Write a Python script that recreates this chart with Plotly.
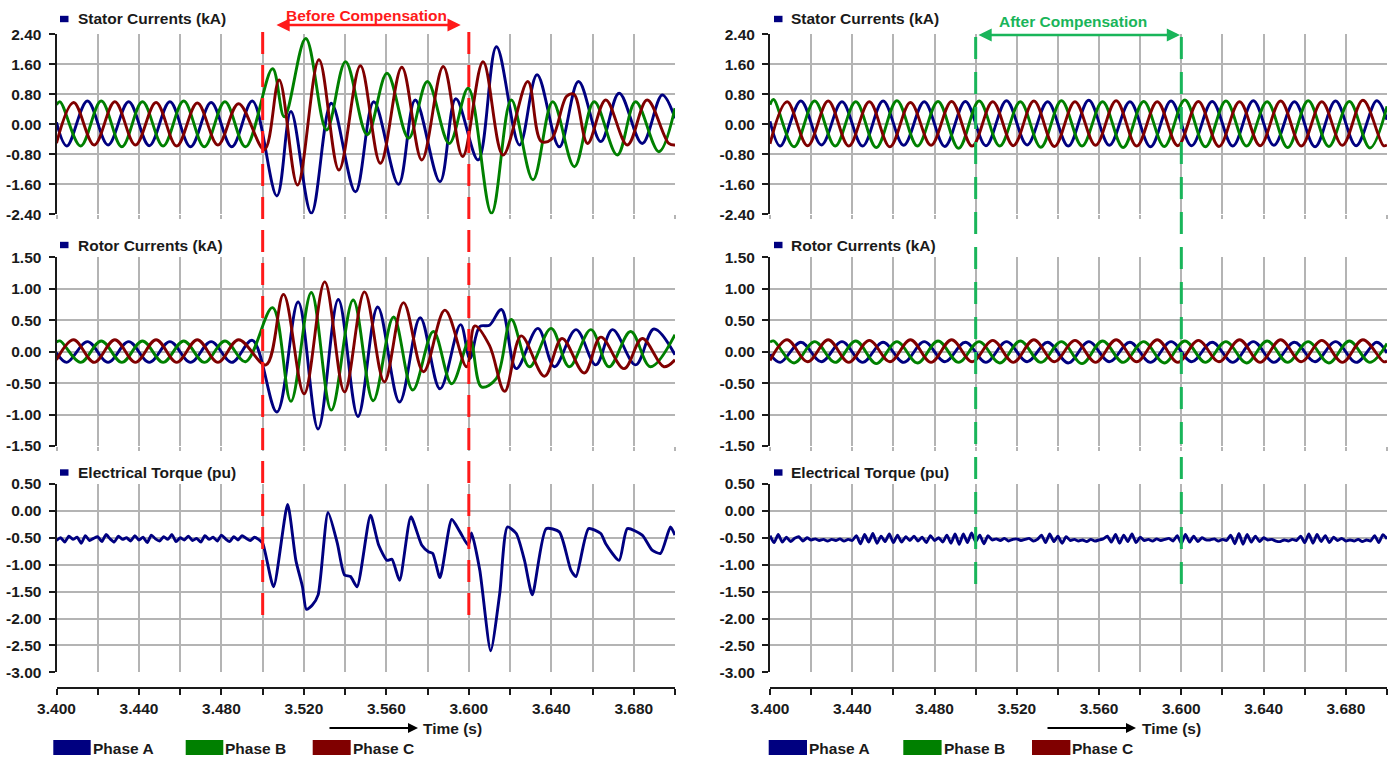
import numpy as np
import plotly.graph_objects as go

W, H = 1400, 758
FONT = "Liberation Sans, Arial, Helvetica, sans-serif"
GRID = "#b4b4b4"
AXIS = "#1a1a1a"

PHASE_NAMES = ["Phase A", "Phase B", "Phase C"]
PHASE_COLORS = ["#000080", "#008000", "#800000"]
PANEL_TITLES = ["Stator Currents (kA)", "Rotor Currents (kA)", "Electrical Torque (pu)"]

TIME_RANGE = [3.4, 3.7]
TIME_TICKS = [3.40, 3.42, 3.44, 3.46, 3.48, 3.50, 3.52, 3.54,
              3.56, 3.58, 3.60, 3.62, 3.64, 3.66, 3.68, 3.70]
TIME_TICK_TEXT = ["3.400", "", "3.440", "", "3.480", "", "3.520", "", "3.560", "",
                  "3.600", "", "3.640", "", "3.680", ""]

STATOR_TICKS = [-2.4, -1.6, -0.8, 0.0, 0.8, 1.6, 2.4]
STATOR_TICK_TEXT = ["-2.40", "-1.60", "-0.80", "0.00", "0.80", "1.60", "2.40"]
ROTOR_TICKS = [-1.5, -1.0, -0.5, 0.0, 0.5, 1.0, 1.5]
ROTOR_TICK_TEXT = ["-1.50", "-1.00", "-0.50", "0.00", "0.50", "1.00", "1.50"]
TORQUE_TICKS = [-3.0, -2.5, -2.0, -1.5, -1.0, -0.5, 0.0, 0.5]
TORQUE_TICK_TEXT = ["-3.00", "-2.50", "-2.00", "-1.50", "-1.00", "-0.50", "0.00", "0.50"]

COMPENSATION_WINDOW = [3.5, 3.6]

# ---------------- before compensation: stator currents (kA), extrema ----------------
ST_L_A_T = [3.400, 3.405, 3.415, 3.425, 3.435, 3.445, 3.455, 3.465, 3.475, 3.485, 3.495,
            3.5069, 3.5137, 3.5236, 3.5333, 3.5450, 3.5539, 3.5659, 3.5740, 3.5860, 3.5937,
            3.6045, 3.6134, 3.6246, 3.6331, 3.6439, 3.6532, 3.6640, 3.6729, 3.6841, 3.6938, 3.700]
ST_L_A_V = [0.05, -0.58, 0.62, -0.55, 0.60, -0.57, 0.60, -0.60, 0.58, -0.60, 0.62,
            -1.91, 0.34, -2.37, 0.56, -1.80, 0.60, -1.60, 0.65, -1.53, 0.68,
            -0.95, 2.07, -0.55, 1.32, -0.60, 1.14, -0.46, 0.83, -0.51, 0.78, 0.16]

ST_L_B_T = [3.400, 3.4017, 3.4117, 3.4217, 3.4317, 3.4417, 3.4517, 3.4617, 3.4717, 3.4817, 3.4917,
            3.5048, 3.5105, 3.5209, 3.5310, 3.5402, 3.5507, 3.5603, 3.5708, 3.5799, 3.5905, 3.5997,
            3.6110, 3.6206, 3.6311, 3.6407, 3.6512, 3.6608, 3.6720, 3.6809, 3.6922, 3.700]
ST_L_B_V = [0.52, 0.60, -0.58, 0.62, -0.60, 0.60, -0.58, 0.62, -0.60, 0.60, -0.60,
            1.48, 0.20, 2.29, -0.15, 1.67, -0.28, 1.36, -0.37, 1.14, -0.51, 0.96,
            -2.37, 0.65, -1.48, 0.60, -1.13, 0.60, -0.82, 0.60, -0.73, 0.43]

ST_L_C_T = [3.400, 3.4083, 3.4183, 3.4283, 3.4383, 3.4483, 3.4583, 3.4683, 3.4783, 3.4883,
            3.5008, 3.5080, 3.5169, 3.5273, 3.5370, 3.5474, 3.5571, 3.5675, 3.5772, 3.5876, 3.5970,
            3.6069, 3.6166, 3.6286, 3.6350, 3.6400, 3.6475, 3.6510, 3.6576, 3.6664, 3.6769,
            3.6865, 3.6970, 3.700]
ST_L_C_V = [-0.50, 0.58, -0.55, 0.60, -0.55, 0.58, -0.58, 0.57, -0.55, 0.55,
            -0.68, 1.18, -1.62, 1.72, -1.22, 1.56, -1.04, 1.52, -0.95, 1.54, -0.86,
            1.67, -0.82, 1.14, -0.45, -0.40, 0.75, 0.80, -0.51, 0.65, -0.55,
            0.65, -0.51, -0.55]

# ---------------- before compensation: rotor currents (kA), extrema ----------------
RO_L_A_T = [3.400, 3.405, 3.415, 3.425, 3.435, 3.445, 3.455, 3.465, 3.475, 3.485, 3.495,
            3.5069, 3.5172, 3.5269, 3.5367, 3.5462, 3.5558, 3.5664, 3.5764, 3.5860, 3.5960,
            3.6005, 3.6053, 3.6100, 3.6158, 3.6230, 3.6335, 3.6415, 3.6520, 3.6616, 3.6697,
            3.6809, 3.6898, 3.700]
RO_L_A_V = [-0.02, -0.17, 0.16, -0.17, 0.16, -0.17, 0.16, -0.17, 0.16, -0.17, 0.18,
            -0.96, 0.79, -1.23, 0.83, -1.03, 0.71, -0.80, 0.54, -0.59, 0.43,
            -0.11, 0.40, 0.42, 0.67, -0.27, 0.37, -0.24, 0.35, -0.21, 0.35,
            -0.21, 0.36, -0.05]

RO_L_B_T = [3.400, 3.4017, 3.4117, 3.4217, 3.4317, 3.4417, 3.4517, 3.4617, 3.4717, 3.4817, 3.4917,
            3.5048, 3.5137, 3.5236, 3.5333, 3.5439, 3.5536, 3.5635, 3.5728, 3.5828, 3.5917, 3.6005,
            3.6061, 3.6133, 3.6206, 3.6294, 3.6399, 3.6487, 3.6592, 3.6680, 3.6785, 3.6881, 3.700]
RO_L_B_V = [0.15, 0.17, -0.17, 0.17, -0.17, 0.17, -0.17, 0.17, -0.17, 0.17, -0.16,
            0.70, -0.79, 0.94, -0.93, 0.82, -0.78, 0.55, -0.61, 0.32, -0.51, 0.19,
            -0.56, -0.43, 0.51, -0.24, 0.37, -0.24, 0.35, -0.24, 0.32, -0.24, 0.27]

RO_L_C_T = [3.400, 3.4083, 3.4183, 3.4283, 3.4383, 3.4483, 3.4583, 3.4683, 3.4783, 3.4883,
            3.5016, 3.5101, 3.5201, 3.5301, 3.5397, 3.5494, 3.5590, 3.5683, 3.5780, 3.5884, 3.5989,
            3.6029, 3.6100, 3.6174, 3.6254, 3.6367, 3.6452, 3.6560, 3.6640, 3.6753, 3.6841,
            3.6946, 3.700]
RO_L_C_V = [-0.13, 0.19, -0.17, 0.19, -0.17, 0.19, -0.17, 0.19, -0.17, 0.19,
            -0.21, 0.91, -0.67, 1.11, -0.64, 0.95, -0.48, 0.78, -0.32, 0.66, -0.24,
            0.41, 0.10, -0.63, 0.25, -0.39, 0.21, -0.34, 0.23, -0.27, 0.21,
            -0.24, -0.13]

# ---------------- before compensation: electrical torque (pu) ----------------
# steady part sampled every 2 ms from 3.400 s to 3.498 s
TQ_L_STEADY_V = [-0.55, -0.50, -0.58, -0.47, -0.53, -0.49, -0.60, -0.46, -0.55, -0.51,
                 -0.48, -0.57, -0.44, -0.52, -0.58, -0.47, -0.53, -0.50, -0.56, -0.46,
                 -0.54, -0.49, -0.59, -0.45, -0.52, -0.56, -0.48, -0.53, -0.44, -0.57,
                 -0.50, -0.54, -0.47, -0.55, -0.51, -0.58, -0.46, -0.53, -0.49, -0.56,
                 -0.45, -0.52, -0.57, -0.48, -0.54, -0.46, -0.51, -0.55, -0.49, -0.53]
TQ_L_OSC_T = [3.5000, 3.5053, 3.5121, 3.5161, 3.5193, 3.5212, 3.5241, 3.5269, 3.5317, 3.5362,
              3.5397, 3.5426, 3.5458, 3.5523, 3.5563, 3.5603, 3.5627, 3.5664, 3.5719, 3.5772,
              3.5804, 3.5825, 3.5860, 3.5917, 3.5957, 3.5997, 3.6013, 3.6053, 3.6106, 3.6150,
              3.6187, 3.6230, 3.6270, 3.6308, 3.6375, 3.6439, 3.6495, 3.6520, 3.6581, 3.6640,
              3.6664, 3.6729, 3.6769, 3.6841, 3.6889, 3.6930, 3.6978, 3.7000]
TQ_L_OSC_V = [-0.60, -1.41, 0.12, -0.92, -1.41, -1.83, -1.75, -1.56, -0.03, -0.60,
              -1.19, -1.22, -1.41, -0.08, -0.64, -0.92, -0.90, -1.29, -0.11, -0.64,
              -0.76, -0.79, -1.24, -0.16, -0.39, -0.64, -0.41, -1.10, -2.60, -1.53,
              -0.30, -0.42, -0.92, -1.56, -0.33, -0.39, -1.10, -1.22, -0.33, -0.42,
              -0.61, -0.92, -0.33, -0.45, -0.73, -0.79, -0.30, -0.45]

# ---------------- after compensation: stator currents (kA), extrema ----------------
ST_R_A_T = [3.400, 3.405, 3.415, 3.425, 3.435, 3.445, 3.455, 3.465, 3.475, 3.485, 3.495,
            3.505, 3.515, 3.525, 3.535, 3.545, 3.555, 3.565, 3.575, 3.585, 3.595,
            3.605, 3.615, 3.625, 3.635, 3.645, 3.655, 3.665, 3.675, 3.685, 3.695, 3.700]
ST_R_A_V = [0.08, -0.58, 0.62, -0.55, 0.60, -0.58, 0.62, -0.56, 0.60, -0.59, 0.61,
            -0.57, 0.63, -0.55, 0.60, -0.58, 0.64, -0.56, 0.60, -0.60, 0.62,
            -0.57, 0.61, -0.58, 0.63, -0.56, 0.60, -0.60, 0.62, -0.57, 0.63, 0.12]

ST_R_B_T = [3.400, 3.4017, 3.4117, 3.4217, 3.4317, 3.4417, 3.4517, 3.4617, 3.4717, 3.4817, 3.4917,
            3.5017, 3.5117, 3.5217, 3.5317, 3.5417, 3.5517, 3.5617, 3.5717, 3.5817, 3.5917,
            3.6017, 3.6117, 3.6217, 3.6317, 3.6417, 3.6517, 3.6617, 3.6717, 3.6817, 3.6917, 3.700]
ST_R_B_V = [0.52, 0.66, -0.60, 0.62, -0.58, 0.60, -0.62, 0.63, -0.58, 0.61, -0.64,
            0.62, -0.58, 0.60, -0.61, 0.63, -0.58, 0.60, -0.62, 0.61, -0.59,
            0.65, -0.60, 0.62, -0.58, 0.60, -0.62, 0.63, -0.59, 0.61, -0.63, 0.48]

ST_R_C_T = [3.400, 3.4083, 3.4183, 3.4283, 3.4383, 3.4483, 3.4583, 3.4683, 3.4783, 3.4883, 3.4983,
            3.5083, 3.5183, 3.5283, 3.5383, 3.5483, 3.5583, 3.5683, 3.5783, 3.5883, 3.5983,
            3.6083, 3.6183, 3.6283, 3.6383, 3.6483, 3.6583, 3.6683, 3.6783, 3.6883, 3.6983, 3.700]
ST_R_C_V = [-0.52, 0.60, -0.57, 0.62, -0.58, 0.60, -0.60, 0.58, -0.56, 0.61, -0.58,
            0.60, -0.57, 0.62, -0.59, 0.60, -0.56, 0.63, -0.58, 0.60, -0.57,
            0.61, -0.59, 0.60, -0.57, 0.62, -0.58, 0.60, -0.56, 0.64, -0.57, -0.55]

# ---------------- after compensation: rotor currents (kA), extrema ----------------
RO_R_A_T = ST_R_A_T
RO_R_A_V = [-0.04, -0.17, 0.15, -0.16, 0.16, -0.17, 0.15, -0.17, 0.16, -0.16, 0.15,
            -0.17, 0.16, -0.16, 0.15, -0.18, 0.16, -0.16, 0.15, -0.17, 0.16,
            -0.16, 0.15, -0.17, 0.16, -0.17, 0.15, -0.16, 0.16, -0.17, 0.15, -0.02]
RO_R_B_T = ST_R_B_T
RO_R_B_V = [0.15, 0.17, -0.18, 0.16, -0.17, 0.17, -0.19, 0.16, -0.18, 0.17, -0.17,
            0.16, -0.18, 0.17, -0.17, 0.16, -0.19, 0.17, -0.17, 0.16, -0.18,
            0.17, -0.17, 0.16, -0.18, 0.17, -0.17, 0.16, -0.18, 0.17, -0.17, 0.13]
RO_R_C_T = ST_R_C_T
RO_R_C_V = [-0.14, 0.19, -0.16, 0.19, -0.17, 0.18, -0.16, 0.19, -0.17, 0.19, -0.16,
            0.18, -0.17, 0.19, -0.16, 0.18, -0.17, 0.19, -0.16, 0.19, -0.17,
            0.18, -0.16, 0.19, -0.17, 0.19, -0.16, 0.18, -0.17, 0.19, -0.16, -0.15]

# ---------------- after compensation: electrical torque (pu), every 2 ms ----------------
TQ_R_V = [-0.46, -0.59, -0.44, -0.58, -0.49, -0.57, -0.51, -0.48, -0.56, -0.50, -0.54,
          -0.52, -0.55, -0.53, -0.56, -0.53, -0.55, -0.52, -0.56, -0.53, -0.55,
          -0.46, -0.61, -0.44, -0.58, -0.42, -0.60, -0.47, -0.57, -0.43, -0.59, -0.45, -0.58, -0.48, -0.55, -0.47,
          -0.56, -0.49, -0.59, -0.46, -0.55, -0.50, -0.58, -0.45, -0.60, -0.43,
          -0.62, -0.43, -0.59, -0.41, -0.57, -0.45, -0.61, -0.46, -0.54,
          -0.52, -0.55, -0.51, -0.56, -0.53, -0.52, -0.55, -0.53, -0.51, -0.56, -0.53,
          -0.45, -0.59, -0.43, -0.57, -0.47, -0.60, -0.48, -0.55,
          -0.53, -0.56, -0.54, -0.57, -0.53, -0.56, -0.54, -0.52,
          -0.47, -0.58, -0.44, -0.60, -0.45, -0.57, -0.43, -0.59, -0.49, -0.55,
          -0.53, -0.56, -0.52, -0.55, -0.53, -0.51, -0.56,
          -0.46, -0.60, -0.44, -0.58, -0.47, -0.57, -0.50, -0.54,
          -0.54, -0.52, -0.56, -0.53, -0.55,
          -0.45, -0.61, -0.42, -0.62, -0.44, -0.58, -0.47, -0.57, -0.50,
          -0.54, -0.53, -0.56, -0.57, -0.54, -0.56, -0.53, -0.55,
          -0.47, -0.59, -0.43, -0.60, -0.44, -0.57, -0.46, -0.59, -0.49, -0.55, -0.51, -0.56,
          -0.54, -0.56, -0.53, -0.57, -0.54, -0.56,
          -0.46, -0.59, -0.44, -0.52]

# sampling instants of the recorded torque traces (2 ms step)
TQ_L_T = list(np.round(np.linspace(3.400, 3.498, len(TQ_L_STEADY_V)), 4)) + TQ_L_OSC_T
TQ_L_V = TQ_L_STEADY_V + TQ_L_OSC_V
TQ_R_T = list(np.round(np.linspace(3.400, 3.700, len(TQ_R_V)), 4))


def px(x):
    return x / W


def py(y):
    return 1 - y / H


BOLD = dict(family=FONT, size=15.5, color=AXIS, weight="bold")

XL = [56.5 / W, 675 / W]
XR = [770 / W, 1387 / W]
Y_ST = [py(214.3), py(34.3)]
Y_RO = [py(446), py(257.3)]
Y_TQ = [py(672.3), py(484)]
X_AXIS_POS = py(688)

fig = go.Figure()

panels = [
    # (axis index, x-domain, y-domain, series, ticks, tick text, range)
    (1, XL, Y_ST, [(ST_L_A_T, ST_L_A_V), (ST_L_B_T, ST_L_B_V), (ST_L_C_T, ST_L_C_V)],
     STATOR_TICKS, STATOR_TICK_TEXT, [-2.4, 2.4]),
    (2, XR, Y_ST, [(ST_R_A_T, ST_R_A_V), (ST_R_B_T, ST_R_B_V), (ST_R_C_T, ST_R_C_V)],
     STATOR_TICKS, STATOR_TICK_TEXT, [-2.4, 2.4]),
    (3, XL, Y_RO, [(RO_L_A_T, RO_L_A_V), (RO_L_B_T, RO_L_B_V), (RO_L_C_T, RO_L_C_V)],
     ROTOR_TICKS, ROTOR_TICK_TEXT, [-1.5, 1.5]),
    (4, XR, Y_RO, [(RO_R_A_T, RO_R_A_V), (RO_R_B_T, RO_R_B_V), (RO_R_C_T, RO_R_C_V)],
     ROTOR_TICKS, ROTOR_TICK_TEXT, [-1.5, 1.5]),
    (5, XL, Y_TQ, [(TQ_L_T, TQ_L_V)], TORQUE_TICKS, TORQUE_TICK_TEXT, [-3.0, 0.5]),
    (6, XR, Y_TQ, [(TQ_R_T, TQ_R_V)], TORQUE_TICKS, TORQUE_TICK_TEXT, [-3.0, 0.5]),
]

layout = {}
for idx, xdom, ydom, series, yticks, ytext, yrange in panels:
    sfx = "" if idx == 1 else str(idx)
    is_torque = idx in (5, 6)
    for k, (t, v) in enumerate(series):
        fig.add_trace(go.Scatter(
            x=t, y=v, mode="lines", name=PHASE_NAMES[k], showlegend=False,
            line=dict(color=PHASE_COLORS[k], width=2.9, shape="spline",
                      smoothing=0.6 if is_torque else 1.0),
            xaxis="x" + sfx, yaxis="y" + sfx, hoverinfo="skip"))

    xa = dict(domain=xdom, range=TIME_RANGE, tickvals=TIME_TICKS, showgrid=True,
              gridcolor=GRID, gridwidth=1.5, zeroline=False, fixedrange=True,
              automargin=False)
    if is_torque:
        xa.update(anchor="free", position=X_AXIS_POS, showline=True, linecolor=AXIS,
                  linewidth=2, ticks="outside", ticklen=6, tickwidth=1.5, tickcolor=AXIS,
                  ticktext=TIME_TICK_TEXT, showticklabels=True, tickfont=BOLD)
    else:
        xa.update(anchor="y" + sfx, showline=False, ticks="outside", ticklen=4,
                  tickwidth=1.5, tickcolor=GRID, showticklabels=False)
    ya = dict(domain=ydom, range=yrange, tickvals=yticks, ticktext=ytext,
              anchor="x" + sfx, showline=True, linecolor=AXIS, linewidth=2,
              ticks="outside", ticklen=6, tickwidth=1.5, tickcolor=AXIS,
              showgrid=True, gridcolor=GRID, gridwidth=1.5, zeroline=False,
              tickfont=BOLD, ticklabelstandoff=4, fixedrange=True, automargin=False)
    layout["xaxis" + sfx] = xa
    layout["yaxis" + sfx] = ya

shapes = []
annotations = []

# panel titles with series marker
title_rows = [19, 245, 472.5]
for x_mark, x_text in [(60, 76), (774, 789)]:
    for title, yc in zip(PANEL_TITLES, title_rows):
        shapes.append(dict(type="rect", xref="paper", yref="paper",
                           x0=px(x_mark), x1=px(x_mark + 8.5), y0=py(yc + 3.2), y1=py(yc - 3.2),
                           fillcolor=PHASE_COLORS[0], line=dict(width=0)))
        annotations.append(dict(text=title, xref="paper", yref="paper", x=px(x_text), y=py(yc),
                                xanchor="left", yanchor="middle", showarrow=False, font=BOLD))

RED = "#ff1a1a"
GREEN = "#19b55a"

# compensation window markers
for t in COMPENSATION_WINDOW:
    shapes.append(dict(type="line", xref="x", yref="paper", x0=t, x1=t, y0=py(32), y1=py(617),
                       line=dict(color=RED, width=3, dash="22px,11px")))
    shapes.append(dict(type="line", xref="x2", yref="paper", x0=t, x1=t, y0=py(37), y1=py(590),
                       line=dict(color=GREEN, width=3, dash="22px,13px")))

annotations.append(dict(text="", xref="paper", yref="paper", x=px(460.7), y=py(25),
                        ax=-185.7, ay=0, axref="pixel", ayref="pixel", showarrow=True,
                        arrowside="end+start", arrowhead=2, startarrowhead=2,
                        arrowsize=1.1, startarrowsize=1.1, arrowwidth=2.4, arrowcolor=RED))
annotations.append(dict(text="Before Compensation", xref="paper", yref="paper",
                        x=px(366.7), y=py(15), xanchor="center", yanchor="middle",
                        showarrow=False, font=dict(family=FONT, size=15.5, color=RED, weight="bold")))
annotations.append(dict(text="", xref="paper", yref="paper", x=px(1180), y=py(35),
                        ax=-203, ay=0, axref="pixel", ayref="pixel", showarrow=True,
                        arrowside="end+start", arrowhead=2, startarrowhead=2,
                        arrowsize=1.1, startarrowsize=1.1, arrowwidth=2.4, arrowcolor=GREEN))
annotations.append(dict(text="After Compensation", xref="paper", yref="paper",
                        x=px(1072.5), y=py(21.5), xanchor="center", yanchor="middle",
                        showarrow=False, font=dict(family=FONT, size=15.5, color=GREEN, weight="bold")))

# time axis captions
for head_x, text_x in [(418, 421), (1136, 1140)]:
    annotations.append(dict(text="", xref="paper", yref="paper", x=px(head_x), y=py(728),
                            ax=-90, ay=0, axref="pixel", ayref="pixel", showarrow=True,
                            arrowhead=2, arrowsize=1.0, arrowwidth=2, arrowcolor="#000000"))
    annotations.append(dict(text="Time (s)", xref="paper", yref="paper", x=px(text_x), y=py(728),
                            xanchor="left", yanchor="middle", showarrow=False, font=BOLD))

# phase legends
legend_rows = [
    [(53.3, 90.7), (185.7, 223.3), (312.7, 350.7)],
    [(768.7, 807), (903.3, 941.6), (1032, 1070.4)],
]
for row in legend_rows:
    for k, (x0, x1) in enumerate(row):
        shapes.append(dict(type="rect", xref="paper", yref="paper",
                           x0=px(x0), x1=px(x1), y0=py(755), y1=py(740),
                           fillcolor=PHASE_COLORS[k], line=dict(width=0)))
        annotations.append(dict(text=PHASE_NAMES[k], xref="paper", yref="paper",
                                x=px(x1), y=py(748), xanchor="left", yanchor="middle",
                                showarrow=False, font=BOLD))

fig.update_layout(
    width=W, height=H, margin=dict(l=0, r=0, t=0, b=0, autoexpand=False),
    paper_bgcolor="white", plot_bgcolor="white",
    showlegend=False, shapes=shapes, annotations=annotations,
    font=dict(family=FONT, color=AXIS),
    **layout,
)

fig.write_html("out.html")
